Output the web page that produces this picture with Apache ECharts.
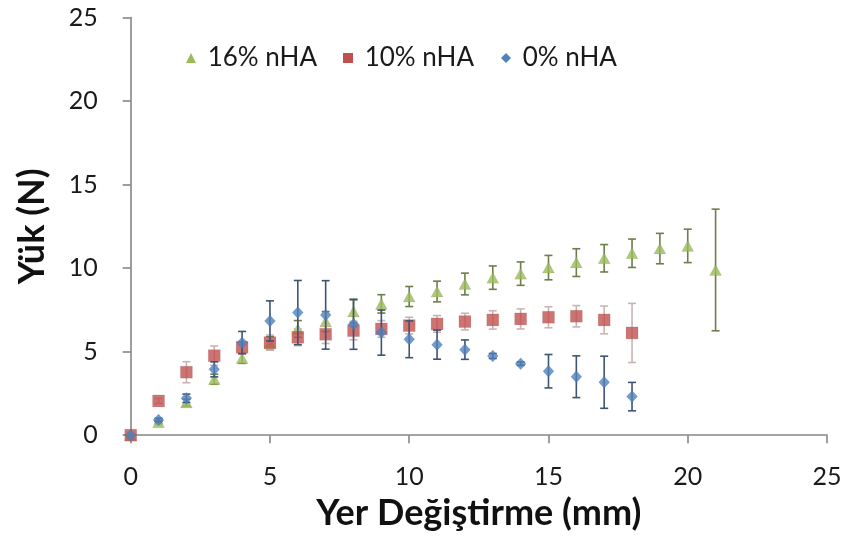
<!DOCTYPE html>
<html><head><meta charset="utf-8">
<script src="https://cdn.jsdelivr.net/npm/echarts@6/dist/echarts.min.js"></script>
<style>html,body{margin:0;padding:0;background:#fff}#c{width:849px;height:553px}</style>
</head><body><div id="c"></div>
<script>
var xs = [0,1,2,3,4,5,6,7,8,9,10,11,12,13,14,15,16,17,18,19,20,21];
var names = ['16% nHA','10% nHA','0% nHA'];
var g16 = [0,0.78,1.95,3.35,4.6,5.5,6.36,6.8,7.4,7.86,8.3,8.6,9.05,9.43,9.67,10.03,10.33,10.59,10.89,11.17,11.33,9.89];
var g16err = [0,0.1,0.2,0.3,0.3,0.4,0.5,0.6,0.7,0.55,0.6,0.62,0.65,0.7,0.7,0.73,0.83,0.82,0.85,0.91,1.0,3.64];
var r10 = [0,2.05,3.77,4.76,5.26,5.54,5.86,6.04,6.26,6.36,6.56,6.66,6.8,6.9,6.96,7.06,7.12,6.9,6.12];
var r10err = [0,0.15,0.63,0.58,0.35,0.45,0.5,0.55,0.55,0.5,0.5,0.5,0.5,0.55,0.6,0.63,0.64,0.83,1.77];
var b0 = [0,0.91,2.21,3.94,5.54,6.84,7.34,7.2,6.64,6.14,5.74,5.42,5.12,4.74,4.28,3.83,3.5,3.17,2.31];
var b0err = [0,0.1,0.25,0.45,0.67,1.2,1.92,2.05,1.5,1.35,1.1,0.87,0.58,0.15,0.1,1.0,1.25,1.56,0.85];
var xTicks = [0,5,10,15,20,25];
var yTicks = [0,5,10,15,20,25];

var colors = ['#9bbb59','#c0504d','#4f81bd'];
var errColors = ['#6e7d4c','#c9b4b4','#3f5373'];
var symbols = ['triangle','rect','diamond'];
var sizes = [[12,11],[12,12],[11,12]];
var vals = [g16, r10, b0];
var errs = [g16err, r10err, b0err];

function errData(v, e){ return v.map(function(y,i){ return [xs[i], y-e[i], y+e[i]]; }); }
function ptData(v){ return v.map(function(y,i){ return [xs[i], y]; }); }

var series = [];
for (var k=0;k<3;k++){
  (function(k){
    series.push({
      type:'custom', name:names[k], silent:true, z:2+k*2,
      data: errData(vals[k], errs[k]),
      encode:{x:0, y:[1,2]},
      renderItem:function(params, api){
        var x = api.value(0), lo = api.value(1), hi = api.value(2);
        if (hi - lo < 0.01) return null;
        var p1 = api.coord([x, lo]), p2 = api.coord([x, hi]);
        var w = 4;
        var st = {stroke: errColors[k], lineWidth: 1.6};
        return {type:'group', children:[
          {type:'line', shape:{x1:p1[0],y1:p1[1],x2:p2[0],y2:p2[1]}, style:st},
          {type:'line', shape:{x1:p1[0]-w,y1:p1[1],x2:p1[0]+w,y2:p1[1]}, style:st},
          {type:'line', shape:{x1:p2[0]-w,y1:p2[1],x2:p2[0]+w,y2:p2[1]}, style:st}
        ]};
      }
    });
    series.push({
      type:'scatter', name:names[k], z:3+k*2,
      symbol:symbols[k], symbolSize:sizes[k],
      itemStyle:{color:colors[k], borderColor:'rgba(0,0,0,0.15)', borderWidth:0.5},
      data: ptData(vals[k])
    });
  })(k);
}

var font = 'Lato, "Open Sans", sans-serif';
var legendPos = [[181,40],[338,40],[496,40]];
var legends = names.map(function(n,i){
  return {data:[{name:n, icon:symbols[i], itemStyle:{color:colors[i]}}], left:legendPos[i][0], top:legendPos[i][1],
    itemWidth:10, itemHeight:10, itemGap:8,
    formatter:function(s){ return ' ' + s; },
    textStyle:{fontFamily:font, fontSize:26, color:'#1a1a1a'}};
});

var chart = echarts.init(document.getElementById('c'), null, {renderer:'canvas'});
chart.setOption({
  animation:false,
  backgroundColor:'#fff',
  legend: legends,
  grid:{left:130.7, right:22, top:17.5, bottom:117.8, containLabel:false},
  xAxis:{type:'value', min:0, max:25, interval:5,
    name:'Yer Değiştirme (mm)', nameLocation:'middle', nameGap:60,
    nameTextStyle:{fontFamily:font, fontSize:36, fontWeight:'bold', color:'#111'},
    axisLine:{show:true, onZero:false, lineStyle:{color:'#868686', width:1.6}},
    axisTick:{show:true, length:8, inside:false, lineStyle:{color:'#868686', width:1.6}},
    axisLabel:{margin:29, fontFamily:font, fontSize:25, color:'#1a1a1a',
      formatter:function(v){ return xTicks.indexOf(v)>=0 ? String(v) : ''; }},
    splitLine:{show:false}},
  yAxis:{type:'value', min:0, max:25, interval:5,
    name:'Yük (N)', nameLocation:'middle', nameGap:80,
    nameTextStyle:{fontFamily:font, fontSize:36, fontWeight:'bold', color:'#111'},
    axisLine:{show:true, onZero:false, lineStyle:{color:'#868686', width:1.6}},
    axisTick:{show:true, length:8, inside:false, lineStyle:{color:'#868686', width:1.6}},
    axisLabel:{margin:33, fontFamily:font, fontSize:25, color:'#1a1a1a',
      formatter:function(v){ return yTicks.indexOf(v)>=0 ? String(v) : ''; }},
    splitLine:{show:false}},
  series: series
});
</script></body></html>
